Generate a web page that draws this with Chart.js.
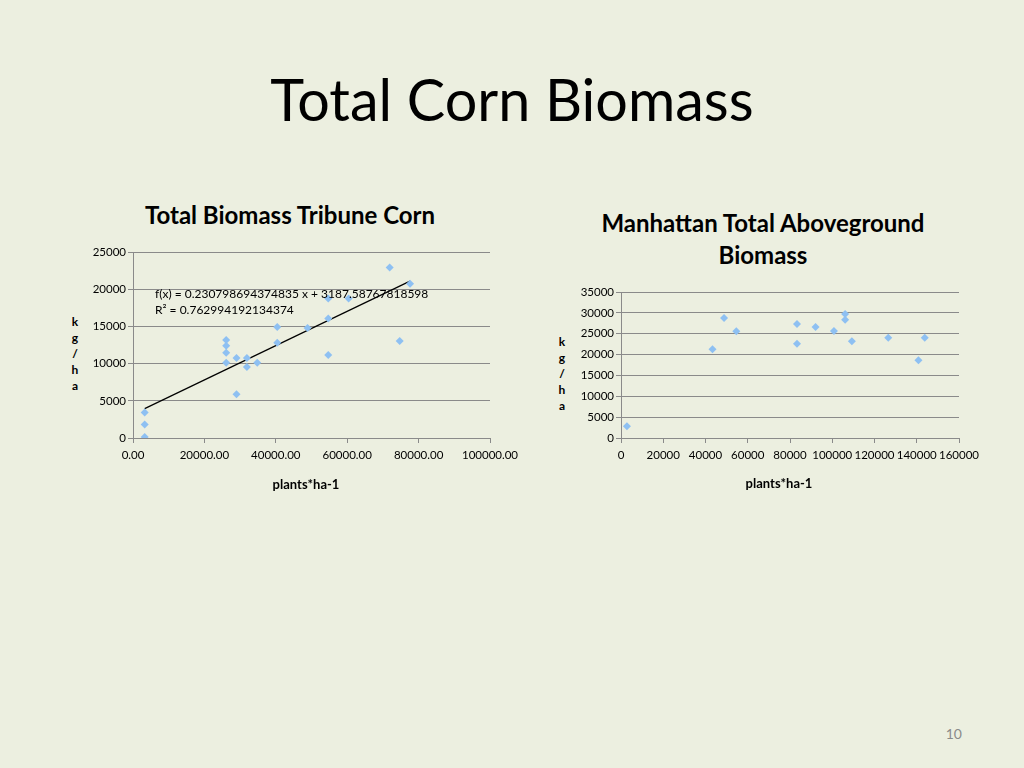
<!DOCTYPE html>
<html lang="en">
<head>
<meta charset="UTF-8">
<title>Total Corn Biomass</title>
<script src="https://cdn.jsdelivr.net/npm/chart.js"></script>
<style>
    html, body {
        margin: 0;
        padding: 0;
    }
    body {
        width: 1024px;
        height: 768px;
        background: #ecefe0;
        position: relative;
        overflow: hidden;
        font-family: Lato, "Open Sans", sans-serif;
        color: #000;
    }
    .abs { position: absolute; }
    .page-title {
        left: 0; width: 1024px; top: 66px;
        text-align: center;
        font-size: 57.5px;
        line-height: 66px;
    }
    .chart-title {
        font-weight: bold;
        font-size: 24px;
        line-height: 32px;
        text-align: center;
    }
    .ytitle {
        font-weight: bold;
        font-size: 12px;
        line-height: 16px;
        text-align: center;
        width: 14px;
    }
    .xtitle {
        font-weight: bold;
        font-size: 13px;
        line-height: 16px;
        text-align: center;
        width: 120px;
    }
    .eq {
        font-size: 12px;
        line-height: 16px;
        white-space: nowrap;
    }
    .page-num {
        left: 930px; top: 725px; width: 32px;
        text-align: right;
        font-size: 14px;
        color: #8a8a8a;
    }
</style>
</head>
<body>
    <div class="abs page-title">Total Corn Biomass</div>

    <!-- Tribune -->
    <div class="abs chart-title" style="left:90px; width:400px; top:199px;">Total Biomass Tribune Corn</div>
    <div class="abs ytitle" style="left:68px; top:314px;">k<br>g<br>/<br>h<br>a</div>
    <canvas id="tribuneChart" class="abs" style="left:60px; top:240px;"></canvas>
    <div class="abs eq" style="left:155px; top:286px;">f(x) = 0.230798694374835 x + 3187.58767818598<br>R² = 0.762994192134374</div>
    <div class="abs xtitle" style="left:246px; top:476px;">plants*ha-1</div>

    <!-- Manhattan -->
    <div class="abs chart-title" style="left:563px; width:400px; top:207px;">Manhattan Total Aboveground<br>Biomass</div>
    <div class="abs ytitle" style="left:555px; top:334px;">k<br>g<br>/<br>h<br>a</div>
    <canvas id="manhattanChart" class="abs" style="left:540px; top:280px;"></canvas>
    <div class="abs xtitle" style="left:719px; top:475px;">plants*ha-1</div>

    <div class="abs page-num">10</div>

    <script>
        // Tribune data (plants/ha vs kg/ha)
        const tribuneX = [3270, 3270, 3270, 26100, 26100, 26100, 26100, 29000, 29000, 31900, 31900, 34800, 40400, 40400, 48900, 54700, 54700, 54700, 60400, 71900, 74700, 77600];
        const tribuneY = [3420, 1800, 140, 13170, 12410, 11470, 10120, 10750, 5890, 10750, 9530, 10120, 14930, 12810, 14790, 18750, 16050, 11150, 18750, 22930, 13040, 20730];
        // trendline end points
        const trendX = [3270, 77600];
        const trendY = [3950, 21090];

        // Manhattan data
        const manhattanX = [2800, 43300, 48800, 54600, 83300, 83300, 92100, 100800, 106100, 106100, 109300, 126500, 140800, 143800];
        const manhattanY = [2800, 21260, 28770, 25570, 27330, 22620, 26610, 25650, 29730, 28370, 23170, 24050, 18620, 24050];

        const gridColor = '#8a8a8a';
        const markerColor = '#8ec0f2';
        const tickFont = { family: 'Lato', size: 11.5 };

        function toPoints(xs, ys) {
            return xs.map((x, i) => ({ x: x, y: ys[i] }));
        }

        function makeChart(id, w, h, cfg) {
            const canvas = document.getElementById(id);
            canvas.style.width = w + 'px';
            canvas.style.height = h + 'px';
            canvas.width = w;
            canvas.height = h;
            return new Chart(canvas, {
                type: 'scatter',
                data: { datasets: cfg.datasets },
                options: {
                    responsive: false,
                    animation: false,
                    layout: { padding: cfg.padding },
                    plugins: { legend: { display: false }, tooltip: { enabled: false } },
                    scales: {
                        x: {
                            type: 'linear',
                            min: 0,
                            max: cfg.xMax,
                            afterFit: s => {
                                s.height = cfg.xHeight;
                                s.paddingLeft = 0;
                                s.paddingRight = 0;
                            },
                            border: { display: true, color: gridColor, width: 1 },
                            grid: { drawOnChartArea: false, drawTicks: true, tickLength: 5, color: gridColor },
                            ticks: {
                                stepSize: cfg.xStep,
                                autoSkip: false,
                                maxRotation: 0,
                                padding: 5,
                                color: '#000',
                                font: tickFont,
                                callback: cfg.xFormat
                            }
                        },
                        y: {
                            type: 'linear',
                            min: 0,
                            max: cfg.yMax,
                            afterFit: s => {
                                s.width = cfg.yWidth;
                                s.paddingTop = 0;
                                s.paddingBottom = 0;
                            },
                            border: { display: true, color: gridColor, width: 1 },
                            grid: { color: gridColor, lineWidth: 1, tickLength: 5 },
                            ticks: {
                                stepSize: 5000,
                                padding: 2,
                                color: '#000',
                                font: tickFont,
                                callback: v => String(v)
                            }
                        }
                    }
                }
            });
        }

        makeChart('tribuneChart', 480, 260, {
            padding: { left: 0, right: 50, top: 12, bottom: 0 },
            xMax: 100000, xStep: 20000, yMax: 25000,
            xHeight: 62, yWidth: 73,
            xFormat: v => v.toFixed(2),
            datasets: [
                {
                    data: toPoints(tribuneX, tribuneY),
                    pointStyle: 'rectRot',
                    pointRadius: 4,
                    backgroundColor: markerColor,
                    borderColor: markerColor,
                    borderWidth: 0
                },
                {
                    data: toPoints(trendX, trendY),
                    showLine: true,
                    pointRadius: 0,
                    borderColor: '#000',
                    borderWidth: 1.2
                }
            ]
        });

        makeChart('manhattanChart', 460, 220, {
            padding: { left: 0, right: 41, top: 12, bottom: 0 },
            xMax: 160000, xStep: 20000, yMax: 35000,
            xHeight: 62, yWidth: 81,
            xFormat: v => String(v),
            datasets: [
                {
                    data: toPoints(manhattanX, manhattanY),
                    pointStyle: 'rectRot',
                    pointRadius: 4,
                    backgroundColor: markerColor,
                    borderColor: markerColor,
                    borderWidth: 0
                }
            ]
        });
    </script>
</body>
</html>
